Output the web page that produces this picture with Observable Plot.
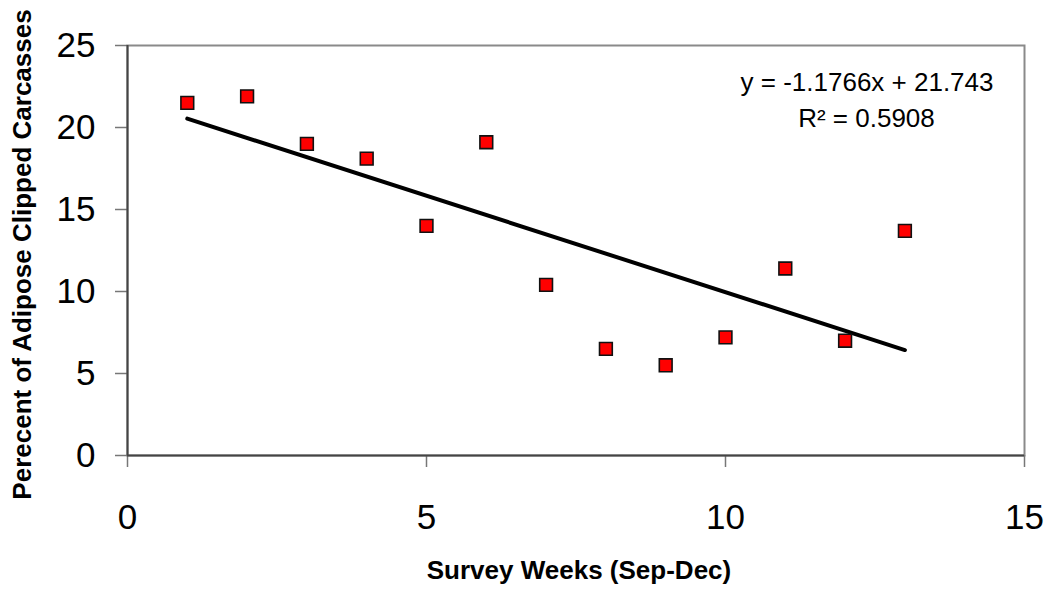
<!DOCTYPE html>
<html>
<head>
<meta charset="utf-8">
<script src="https://cdn.jsdelivr.net/npm/d3@7"></script>
<script src="https://cdn.jsdelivr.net/npm/@observablehq/plot@0.6"></script>
<style>
  html, body { margin: 0; padding: 0; background: #fff; }
  #chart { width: 1054px; height: 599px; }
</style>
</head>
<body>
<div id="chart"></div>
<script>
// Data
const weeks = [1, 2, 3, 4, 5, 6, 7, 8, 9, 10, 11, 12, 13];
const percentClipped = [21.5, 21.9, 19.0, 18.1, 14.0, 19.1, 10.4, 6.5, 5.5, 7.2, 11.4, 7.0, 13.7];
const xTicks = [0, 5, 10, 15];
const yTicks = [0, 5, 10, 15, 20, 25];
const equationText = "y = -1.1766x + 21.743";
const r2Text = "R\u00B2 = 0.5908";
const xTitle = "Survey Weeks (Sep-Dec)";
const yTitle = "Perecent of Adipose Clipped Carcasses";

const data = weeks.map((w, i) => ({week: w, pct: percentClipped[i]}));

const chart = Plot.plot({
  width: 1054,
  height: 599,
  marginLeft: 127,
  marginRight: 30,
  marginTop: 45,
  marginBottom: 144,
  style: {fontFamily: "'Liberation Sans', Arial, sans-serif", color: "#000", background: "#fff"},
  x: {domain: [0, 15]},
  y: {domain: [0, 25]},
  marks: [
    Plot.frame({stroke: "#8a8a8a", strokeWidth: 2}),
    Plot.axisY(yTicks, {tickSize: 12, tickPadding: 20, fontSize: 35, stroke: "#777", strokeWidth: 1.5, label: null, tickFormat: d => d}),
    Plot.axisX(xTicks, {tickSize: 12, tickPadding: 37, fontSize: 35, stroke: "#777", strokeWidth: 1.5, label: null, tickFormat: d => d}),
    Plot.ruleX([0], {stroke: "#444", strokeWidth: 2}),
    Plot.ruleY([0], {stroke: "#444", strokeWidth: 2}),
    Plot.linearRegressionY(data, {x: "week", y: "pct", ci: 0, stroke: "#000", strokeWidth: 4}),
    Plot.dot(data, {x: "week", y: "pct", symbol: "square", r: 7.2, fill: "#ff0000", stroke: "#111", strokeWidth: 1.6}),
    Plot.text([equationText], {frameAnchor: "top-right", dx: -31, dy: 37, textAnchor: "end", lineAnchor: "middle", fontSize: 26, fill: "#000"}),
    Plot.text([r2Text], {frameAnchor: "top-right", dx: -158, dy: 73, textAnchor: "middle", lineAnchor: "middle", fontSize: 26, fill: "#000"}),
    Plot.text([yTitle], {frameAnchor: "left", dx: -105, dy: 4, rotate: -90, textAnchor: "middle", fontSize: 26, fontWeight: "bold", fill: "#000"}),
    Plot.text([xTitle], {frameAnchor: "bottom", dx: 3, dy: 123, textAnchor: "middle", fontSize: 26, fontWeight: "bold", fill: "#000"})
  ]
});

document.getElementById("chart").appendChild(chart);
</script>
</body>
</html>
